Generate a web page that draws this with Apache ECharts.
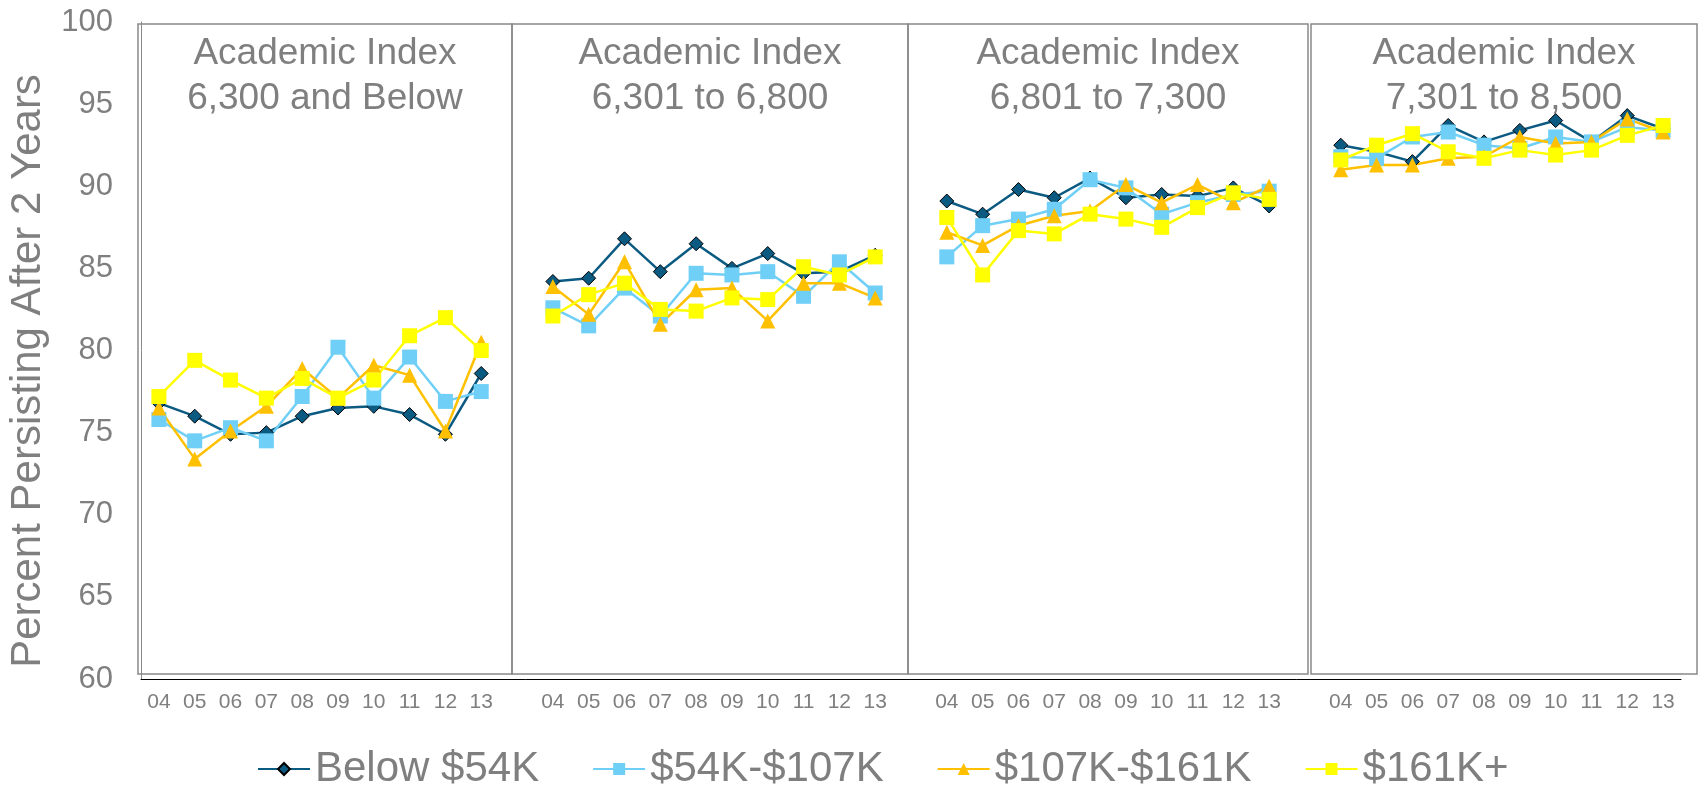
<!DOCTYPE html>
<html>
<head>
<meta charset="utf-8">
<script src="https://cdn.jsdelivr.net/npm/echarts@6/dist/echarts.min.js"></script>
<style>
  html, body { margin: 0; padding: 0; background: #fff; }
  #chart { width: 1700px; height: 786px; }
</style>
</head>
<body>
<div id="chart"></div>
<script>
const years = ['04', '05', '06', '07', '08', '09', '10', '11', '12', '13']
const panelTitles = [
  'Academic Index\n6,300 and Below',
  'Academic Index\n6,301 to 6,800',
  'Academic Index\n6,801 to 7,300',
  'Academic Index\n7,301 to 8,500'
]
const yTicks = { min: 60, max: 100, step: 5 }

// one row per panel
const below54K = [
  [76.8, 76.0, 74.9, 75.0, 76.0, 76.5, 76.6, 76.1, 74.9, 78.6],
  [84.2, 84.4, 86.8, 84.8, 86.5, 85.0, 85.9, 84.7, 84.8, 85.8],
  [89.1, 88.3, 89.8, 89.3, 90.5, 89.3, 89.5, 89.4, 89.9, 88.8],
  [92.5, 92.1, 91.5, 93.7, 92.7, 93.4, 94.0, 92.7, 94.3, 93.5]
]
const k54to107 = [
  [75.8, 74.5, 75.3, 74.5, 77.2, 80.2, 77.1, 79.6, 76.9, 77.5],
  [82.6, 81.5, 83.8, 82.1, 84.7, 84.6, 84.8, 83.3, 85.4, 83.5],
  [85.7, 87.6, 88.0, 88.6, 90.4, 89.9, 88.3, 89.0, 89.5, 89.7],
  [91.8, 91.7, 93.0, 93.3, 92.5, 92.3, 93.0, 92.7, 93.6, 93.4]
]
const k107to161 = [
  [76.5, 73.4, 75.1, 76.6, 78.9, 77.1, 79.1, 78.5, 75.1, 80.5],
  [83.9, 82.2, 85.4, 81.6, 83.7, 83.8, 81.8, 84.1, 84.1, 83.2],
  [87.2, 86.4, 87.6, 88.2, 88.5, 90.1, 89.0, 90.1, 89.0, 90.0],
  [91.0, 91.3, 91.3, 91.7, 91.8, 93.0, 92.6, 92.7, 94.1, 93.3]
]
const k161plus = [
  [77.2, 79.4, 78.2, 77.1, 78.3, 77.1, 78.2, 80.9, 82.0, 80.0],
  [82.1, 83.4, 84.1, 82.5, 82.4, 83.2, 83.1, 85.1, 84.6, 85.7],
  [88.1, 84.6, 87.3, 87.1, 88.3, 88.0, 87.5, 88.7, 89.6, 89.2],
  [91.6, 92.5, 93.2, 92.1, 91.7, 92.2, 91.9, 92.2, 93.1, 93.7]
]

const font = "'Liberation Sans', Arial, sans-serif"
const gray = '#7f7f7f'
const frameColor = '#898989'

// panels share one category axis, with an empty slot between panels
function joinPanels(rows, gap) {
  const out = []
  rows.forEach((row, i) => {
    if (i) out.push(gap)
    out.push(...row)
  })
  return out
}
const categories = joinPanels([years, years, years, years], '')

// frame boxes around each panel
const frames = [
  [138, 24, 512, 674],
  [512, 24, 908, 674],
  [908, 24, 1308, 674],
  [1311, 24, 1697, 674]
]

function makeSeries(name, rows, symbol, color, extra) {
  return Object.assign({
    name,
    type: 'line',
    data: joinPanels(rows, '-'),
    symbol,
    symbolSize: 15,
    lineStyle: { color, width: 2.5 },
    itemStyle: { color },
    emphasis: { disabled: true }
  }, extra || {})
}

const chart = echarts.init(document.getElementById('chart'))
const option = {
  animation: false,
  backgroundColor: '#fff',
  grid: {
    left: 141,
    right: 19,
    top: 22,
    bottom: 107,
    containLabel: false,
    outerBoundsMode: 'none'
  },
  xAxis: {
    type: 'category',
    data: categories,
    boundaryGap: true,
    axisLine: { show: true, lineStyle: { color: '#000', width: 1 } },
    axisTick: { show: false },
    axisLabel: { interval: 0, color: gray, fontSize: 21, fontFamily: font, margin: 13 },
    splitLine: { show: false }
  },
  yAxis: {
    type: 'value',
    min: yTicks.min,
    max: yTicks.max,
    interval: yTicks.step,
    axisLine: { show: true, lineStyle: { color: frameColor, width: 1 } },
    axisTick: { show: false },
    axisLabel: { color: gray, fontSize: 31, fontFamily: font, margin: 28 },
    splitLine: { show: false }
  },
  legend: {
    left: 252,
    top: 743,
    itemWidth: 52,
    itemHeight: 15,
    itemGap: 53,
    textStyle: { color: gray, fontSize: 42, fontFamily: font },
    data: ['Below $54K', '$54K-$107K', '$107K-$161K', '$161K+']
  },
  series: [
    makeSeries('Below $54K', below54K, 'diamond', '#0b5a82', {
      symbolSize: 14,
      itemStyle: { color: '#0b5a82', borderColor: '#000', borderWidth: 1 }
    }),
    makeSeries('$54K-$107K', k54to107, 'rect', '#6fcff6'),
    makeSeries('$107K-$161K', k107to161, 'triangle', '#ffc000'),
    makeSeries('$161K+', k161plus, 'rect', '#ffff00')
  ],
  graphic: [
    ...frames.map(f => ({
      type: 'rect',
      silent: true,
      z: -1,
      shape: { x: f[0], y: f[1], width: f[2] - f[0], height: f[3] - f[1] },
      style: { fill: 'none', stroke: frameColor, lineWidth: 1.5 }
    })),
    ...frames.map((f, i) => ({
      type: 'text',
      silent: true,
      x: (f[0] + f[2]) / 2,
      y: 31,
      style: {
        text: panelTitles[i],
        fill: gray,
        fontSize: 37,
        fontFamily: font,
        lineHeight: 45,
        align: 'center',
        verticalAlign: 'top'
      }
    })),
    {
      type: 'text',
      silent: true,
      x: 28,
      y: 371,
      rotation: Math.PI / 2,
      style: {
        text: 'Percent Persisting After 2 Years',
        fill: gray,
        fontSize: 42,
        fontFamily: font,
        align: 'center',
        verticalAlign: 'middle'
      }
    }
  ]
}
chart.setOption(option)
</script>
</body>
</html>
